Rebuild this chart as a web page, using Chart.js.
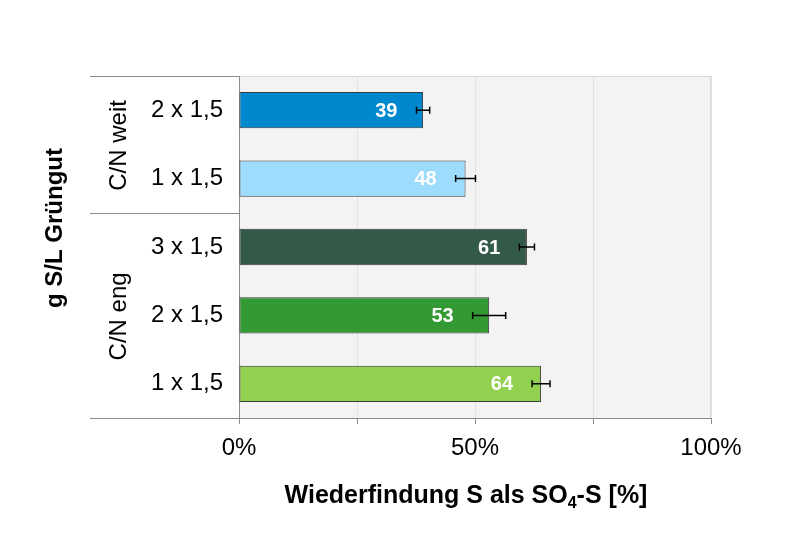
<!DOCTYPE html>
<html>
<head>
<meta charset="utf-8">
<script src="https://cdn.jsdelivr.net/npm/chart.js@4"></script>
<style>
  body { margin: 0; background: #fff; }
  #chart { display: block; }
</style>
</head>
<body>
<canvas id="chart" width="800" height="534"></canvas>
<script>
const categories = ["2 x 1,5", "1 x 1,5", "3 x 1,5", "2 x 1,5", "1 x 1,5"];
const groups = [
  { label: "C/N weit", from: 0, to: 1 },
  { label: "C/N eng", from: 2, to: 4 },
];
const recovery = [39, 48, 61, 53, 64];
const errors = [1.4, 2.1, 1.6, 3.5, 1.9];
const barColors = ["#0088cf", "#9ddcfc", "#335a49", "#339933", "#92d050"];

const FONT = "'Liberation Sans', Arial, sans-serif";
const AXIS_GRAY = "#8c8c8c";

// plot background + frame, drawn before grid lines
const plotBackground = {
  id: "plotBackground",
  beforeDraw(chart) {
    const { ctx, chartArea: a } = chart;
    ctx.save();
    ctx.fillStyle = "#f3f3f3";
    ctx.fillRect(a.left, a.top, a.right - a.left, a.bottom - a.top);
    ctx.strokeStyle = "#dadada";
    ctx.lineWidth = 1;
    ctx.strokeRect(a.left + 0.5, a.top + 0.5, a.right - a.left - 1, a.bottom - a.top);
    ctx.restore();
  },
};

// group label column on the left, error bars, value labels, titles
const extras = {
  id: "extras",
  afterDatasetsDraw(chart) {
    const { ctx, chartArea: a } = chart;
    const x = chart.scales.x;
    const y = chart.scales.y;
    const left = 90;

    ctx.save();
    ctx.strokeStyle = AXIS_GRAY;
    ctx.lineWidth = 1;
    const lines = [a.top, a.bottom];
    for (let i = 0; i < groups.length - 1; i++) {
      const end = groups[i].to;
      lines.push((y.getPixelForValue(end) + y.getPixelForValue(end + 1)) / 2);
    }
    lines.forEach(py => {
      const yy = Math.round(py) + 0.5;
      ctx.beginPath();
      ctx.moveTo(left, yy);
      ctx.lineTo(a.left, yy);
      ctx.stroke();
    });

    // group labels
    ctx.fillStyle = "#000";
    ctx.font = `24px ${FONT}`;
    ctx.textAlign = "center";
    ctx.textBaseline = "middle";
    groups.forEach(g => {
      const cy = (y.getPixelForValue(g.from) + y.getPixelForValue(g.to)) / 2;
      ctx.save();
      ctx.translate(119, cy + 1);
      ctx.rotate(-Math.PI / 2);
      ctx.fillText(g.label, 0, 0);
      ctx.restore();
    });

    // error bars
    ctx.strokeStyle = "#000";
    ctx.lineWidth = 1.5;
    recovery.forEach((v, i) => {
      const py = y.getPixelForValue(i);
      const x0 = x.getPixelForValue(v - errors[i]);
      const x1 = x.getPixelForValue(v + errors[i]);
      ctx.beginPath();
      ctx.moveTo(x0, py);
      ctx.lineTo(x1, py);
      ctx.moveTo(x0, py - 3.5);
      ctx.lineTo(x0, py + 3.5);
      ctx.moveTo(x1, py - 3.5);
      ctx.lineTo(x1, py + 3.5);
      ctx.stroke();
    });

    // value labels
    ctx.fillStyle = "#fff";
    ctx.font = `bold 20px ${FONT}`;
    ctx.textAlign = "right";
    ctx.textBaseline = "middle";
    recovery.forEach((v, i) => {
      const px = x.getPixelForValue(v - errors[i]) - 19;
      ctx.fillText(String(v), px, y.getPixelForValue(i) + 1);
    });

    // y title
    ctx.fillStyle = "#000";
    ctx.font = `bold 24px ${FONT}`;
    ctx.textAlign = "center";
    ctx.save();
    ctx.translate(55, 228);
    ctx.rotate(-Math.PI / 2);
    ctx.fillText("g S/L Grüngut", 0, 0);
    ctx.restore();

    // x title with subscript
    const parts = [
      { t: "Wiederfindung S als SO", sub: false },
      { t: "4", sub: true },
      { t: "-S [%]", sub: false },
    ];
    const big = `bold 25px ${FONT}`;
    const small = `bold 16px ${FONT}`;
    let total = 0;
    parts.forEach(p => {
      ctx.font = p.sub ? small : big;
      p.w = ctx.measureText(p.t).width;
      total += p.w;
    });
    let tx = 466 - total / 2;
    ctx.textAlign = "left";
    ctx.textBaseline = "alphabetic";
    const base = 503;
    parts.forEach(p => {
      ctx.font = p.sub ? small : big;
      ctx.fillText(p.t, tx, p.sub ? base + 5 : base);
      tx += p.w;
    });
    ctx.restore();
  },
};

new Chart(document.getElementById("chart"), {
  type: "bar",
  data: {
    labels: categories,
    datasets: [{
      data: recovery,
      backgroundColor: barColors,
      borderColor: "#3a3a3a",
      borderWidth: 1,
      borderSkipped: false,
      categoryPercentage: 1,
      barPercentage: 0.53,
    }],
  },
  options: {
    indexAxis: "y",
    responsive: false,
    animation: false,
    layout: { padding: { top: 76, right: 89, left: 0, bottom: 0 } },
    scales: {
      x: {
        min: 0,
        max: 100,
        afterFit: s => { s.height = 116; },
        ticks: {
          stepSize: 25,
          autoSkip: false,
          maxRotation: 0,
          padding: 10,
          color: "#000",
          font: { family: FONT, size: 24 },
          callback: v => (v % 50 === 0 ? v + "%" : ""),
        },
        grid: {
          color: "#e2e2e2",
          tickColor: AXIS_GRAY,
          tickLength: 6,
        },
        border: { color: AXIS_GRAY, width: 1 },
      },
      y: {
        afterFit: s => { s.width = 239; },
        ticks: {
          padding: 16,
          color: "#000",
          font: { family: FONT, size: 24 },
        },
        grid: { display: false, drawTicks: false },
        border: { color: AXIS_GRAY, width: 1 },
      },
    },
    plugins: {
      legend: { display: false },
      tooltip: { enabled: false },
    },
  },
  plugins: [plotBackground, extras],
});
</script>
</body>
</html>
